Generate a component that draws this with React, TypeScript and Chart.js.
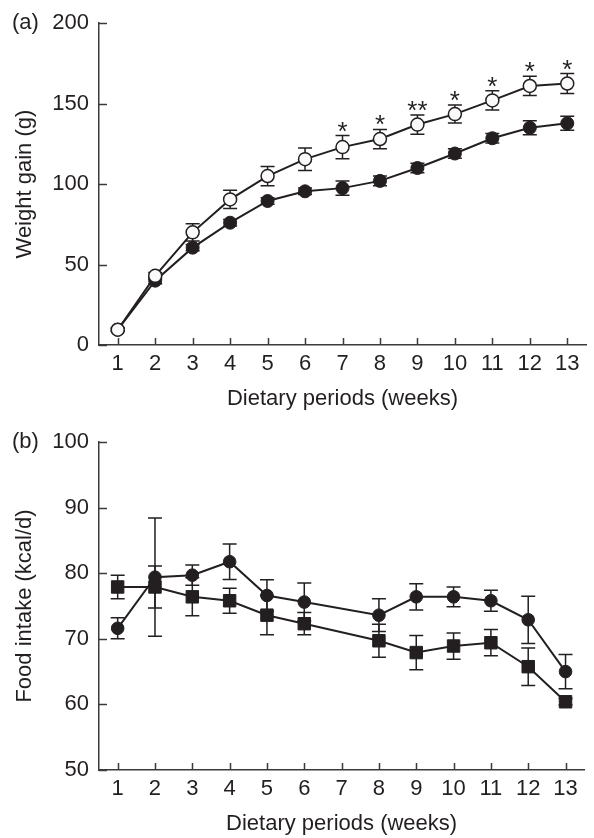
import React, { useEffect, useRef } from "react";
import { Chart, registerables } from "chart.js";

Chart.register(...registerables);

// ---------- data ----------
const xTicks = [1, 2, 3, 4, 5, 6, 7, 8, 9, 10, 11, 12, 13];

// Panel (a): weight gain (g)
const weeksA = [1, 2, 3, 4, 5, 6, 7, 8, 9, 10, 11, 12, 13];
const weightOpen = [9.5, 43, 70, 90.5, 105, 115.5, 123, 128, 137, 143.5, 152, 161, 162.5];
const weightOpenErr = [1, 2, 5.3, 5.7, 6, 7, 7.2, 6, 6, 5.6, 6, 6, 6.2];
const weightFilled = [9.5, 40, 60.5, 76, 89.5, 95.5, 97.5, 102, 110, 119, 128.5, 135, 137.8];
const weightFilledErr = [1, 2, 2, 2, 2, 2, 4.4, 3, 3, 3, 3, 4.3, 4.3];
const weightStars = ["", "", "", "", "", "", "*", "*", "**", "*", "*", "*", "*"];
const yTicksA = [0, 50, 100, 150, 200];

// Panel (b): food intake (kcal/d)
const weeksB = [1, 2, 3, 4, 5, 6, 8, 9, 10, 11, 12, 13];
const intakeCircle = [71.6, 79.4, 79.7, 81.75, 76.6, 75.6, 73.6, 76.4, 76.4, 75.8, 72.9, 65.0];
const intakeCircleErr = [1.6, 9.0, 1.55, 2.7, 2.4, 2.9, 2.5, 2.0, 1.5, 1.6, 3.6, 2.6];
const intakeSquare = [77.9, 77.9, 76.4, 75.8, 73.6, 72.3, 69.7, 67.9, 68.9, 69.4, 65.75, 60.4];
const intakeSquareErr = [1.8, 3.2, 2.9, 1.9, 3.0, 1.7, 2.5, 2.6, 2.0, 2.0, 2.85, 0.5];
const yTicksB = [50, 60, 70, 80, 90, 100];

// ---------- styles ----------
const INK = "#231f20";
const AXIS = "#3a3a3a";
const FONT = "'Liberation Sans', Arial, Helvetica, sans-serif";
const FSIZE = 22;

const overlayPlugin = {
  id: "overlay",
  beforeDatasetsDraw(chart: any, _args: any, opts: any) {
    const { ctx, chartArea, scales } = chart;
    const xs = scales.x;
    const ys = scales.y;
    ctx.save();
    // inward tick marks
    ctx.strokeStyle = AXIS;
    ctx.lineWidth = 1.5;
    (opts.xTicks || []).forEach((v: number) => {
      const px = Math.round(xs.getPixelForValue(v)) + 0.5;
      ctx.beginPath();
      ctx.moveTo(px, chartArea.bottom);
      ctx.lineTo(px, chartArea.bottom - 7);
      ctx.stroke();
    });
    (opts.yTicks || []).forEach((v: number) => {
      const py = Math.round(ys.getPixelForValue(v)) + 0.5;
      ctx.beginPath();
      ctx.moveTo(chartArea.left, py);
      ctx.lineTo(chartArea.left + 8, py);
      ctx.stroke();
    });
    // error bars
    ctx.strokeStyle = INK;
    ctx.lineWidth = 1.5;
    (opts.errors || []).forEach((eb: any) => {
      const meta = chart.getDatasetMeta(eb.ds);
      const ds = chart.data.datasets[eb.ds];
      meta.data.forEach((pt: any, j: number) => {
        const v = ds.data[j].y;
        const e = eb.err[j];
        const x = pt.x;
        const yt = ys.getPixelForValue(v + e);
        const yb = ys.getPixelForValue(v - e);
        ctx.beginPath();
        ctx.moveTo(x, yt);
        ctx.lineTo(x, yb);
        ctx.moveTo(x - 7, yt);
        ctx.lineTo(x + 7, yt);
        ctx.moveTo(x - 7, yb);
        ctx.lineTo(x + 7, yb);
        ctx.stroke();
      });
    });
    ctx.restore();
  },
  afterDatasetsDraw(chart: any, _args: any, opts: any) {
    const { ctx, scales } = chart;
    const ys = scales.y;
    ctx.save();
    if (opts.stars) {
      const meta = chart.getDatasetMeta(opts.stars.ds);
      const ds = chart.data.datasets[opts.stars.ds];
      ctx.fillStyle = INK;
      ctx.font = `26px ${FONT}`;
      ctx.textAlign = "center";
      ctx.textBaseline = "alphabetic";
      meta.data.forEach((pt: any, j: number) => {
        const s = opts.stars.marks[j];
        if (!s) return;
        const yt = ys.getPixelForValue(ds.data[j].y + opts.stars.err[j]);
        ctx.fillText(s, pt.x, yt + 4);
      });
    }
    if (opts.label) {
      ctx.fillStyle = INK;
      ctx.font = `${FSIZE}px ${FONT}`;
      ctx.textAlign = "left";
      ctx.textBaseline = "middle";
      ctx.fillText(opts.label, 12, chart.chartArea.top);
    }
    ctx.restore();
  },
};

function scalesFor(yMin: number, yMax: number, yTicks: number[], yTitle: string) {
  const font = { family: FONT, size: FSIZE };
  return {
    x: {
      type: "linear",
      min: 0.5,
      max: 13.5,
      afterBuildTicks: (s: any) => {
        s.ticks = xTicks.map((v) => ({ value: v }));
      },
      afterFit: (s: any) => {
        s.height = 68;
      },
      grid: { display: false, drawTicks: false },
      border: { display: true, color: AXIS, width: 1.5 },
      ticks: { color: INK, font, padding: 6, maxRotation: 0, autoSkip: false },
      title: {
        display: true,
        text: "Dietary periods (weeks)",
        color: INK,
        font,
        padding: { top: 0, bottom: 1 },
      },
    },
    y: {
      type: "linear",
      min: yMin,
      max: yMax,
      afterBuildTicks: (s: any) => {
        s.ticks = yTicks.map((v) => ({ value: v }));
      },
      afterFit: (s: any) => {
        s.width = 99;
      },
      grid: { display: false, drawTicks: false },
      border: { display: true, color: AXIS, width: 1.5 },
      ticks: { color: INK, font, padding: 10 },
      title: {
        display: true,
        text: yTitle,
        color: INK,
        font,
        padding: { top: 12, bottom: 0 },
      },
    },
  };
}

function PanelA() {
  const ref = useRef<HTMLCanvasElement>(null);
  useEffect(() => {
    const chart = new Chart(ref.current as HTMLCanvasElement, {
      type: "line",
      data: {
        datasets: [
          {
            label: "open",
            data: weeksA.map((w, i) => ({ x: w, y: weightOpen[i] })),
            borderColor: INK,
            borderWidth: 2,
            pointStyle: "circle",
            pointRadius: 6.5,
            pointBorderWidth: 1.5,
            pointBackgroundColor: "#fafafa",
            pointBorderColor: INK,
            clip: false,
          },
          {
            label: "filled",
            data: weeksA.map((w, i) => ({ x: w, y: weightFilled[i] })),
            borderColor: INK,
            borderWidth: 2,
            pointStyle: "circle",
            pointRadius: 6.5,
            pointBorderWidth: 1,
            pointBackgroundColor: INK,
            pointBorderColor: INK,
            clip: false,
          },
        ],
      } as any,
      options: {
        animation: false,
        responsive: false,
        layout: { padding: { top: 18, right: 3, left: 0, bottom: 0 } },
        plugins: {
          legend: { display: false },
          tooltip: { enabled: false },
          overlay: {
            xTicks,
            yTicks: yTicksA,
            errors: [
              { ds: 1, err: weightFilledErr },
              { ds: 0, err: weightOpenErr },
            ],
            stars: { ds: 0, marks: weightStars, err: weightOpenErr },
            label: "(a)",
          },
        } as any,
        scales: scalesFor(0, 200, yTicksA, "Weight gain (g)") as any,
      },
      plugins: [overlayPlugin],
    });
    return () => chart.destroy();
  }, []);
  return <canvas ref={ref} width={594} height={413} style={{ display: "block" }} />;
}

function PanelB() {
  const ref = useRef<HTMLCanvasElement>(null);
  useEffect(() => {
    const chart = new Chart(ref.current as HTMLCanvasElement, {
      type: "line",
      data: {
        datasets: [
          {
            label: "square",
            data: weeksB.map((w, i) => ({ x: w, y: intakeSquare[i] })),
            borderColor: INK,
            borderWidth: 2,
            pointStyle: "rect",
            pointRadius: 8.8,
            pointBorderWidth: 1,
            pointBackgroundColor: INK,
            pointBorderColor: INK,
            clip: false,
          },
          {
            label: "circle",
            data: weeksB.map((w, i) => ({ x: w, y: intakeCircle[i] })),
            borderColor: INK,
            borderWidth: 2,
            pointStyle: "circle",
            pointRadius: 6.3,
            pointBorderWidth: 1,
            pointBackgroundColor: INK,
            pointBorderColor: INK,
            clip: false,
          },
        ],
      } as any,
      options: {
        animation: false,
        responsive: false,
        layout: { padding: { top: 29, right: 3, left: 0, bottom: 0 } },
        plugins: {
          legend: { display: false },
          tooltip: { enabled: false },
          overlay: {
            xTicks,
            yTicks: yTicksB,
            errors: [
              { ds: 1, err: intakeCircleErr },
              { ds: 0, err: intakeSquareErr },
            ],
            label: "(b)",
          },
        } as any,
        scales: scalesFor(50, 100, yTicksB, "Food intake (kcal/d)") as any,
      },
      plugins: [overlayPlugin],
    });
    return () => chart.destroy();
  }, []);
  return <canvas ref={ref} width={594} height={425} style={{ display: "block" }} />;
}

export default function App() {
  return (
    <div
      style={{
        position: "absolute",
        left: 0,
        top: 0,
        width: 594,
        height: 838,
        background: "#ffffff",
      }}
    >
      <PanelA />
      <PanelB />
    </div>
  );
}
